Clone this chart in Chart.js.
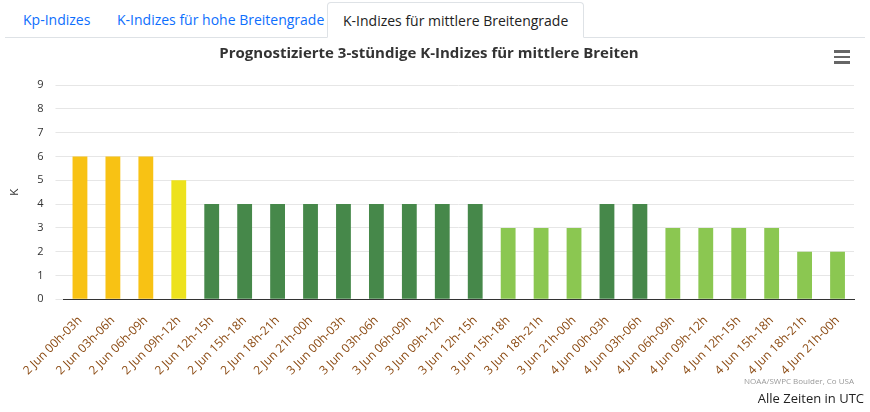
<!DOCTYPE html>
<html>
<head>
<meta charset="utf-8">
<script src="https://cdn.jsdelivr.net/npm/chart.js@4"></script>
<style>
body { margin: 0; width: 870px; height: 412px; font-family: "Open Sans", "DejaVu Sans", sans-serif; background: #fff; position: relative; overflow: hidden; }
.tabs { position: absolute; left: 5px; right: 5px; top: 0; height: 37px; border-bottom: 1px solid #dee2e6; }
.tab { position: absolute; top: 2px; height: 35px; line-height: 35px; font-size: 14px; color: #0d6efd; padding: 0 15px; box-sizing: border-box; white-space: nowrap; }
.tab.active { color: #222; border: 1px solid #dee2e6; border-bottom: 1px solid #fff; border-radius: 4px 4px 0 0; background: #fff; height: 36px; }
#wrap { position: absolute; left: 0; top: 38px; width: 870px; height: 346px; }
.menu { position: absolute; left: 834px; top: 50px; width: 16px; }
.menu div { height: 2.5px; background: #666; margin-bottom: 3px; }
.credit { position: absolute; right: 16px; top: 375px; font-size: 8px; color: #999; }
.utc { position: absolute; right: 6px; top: 389px; font-size: 13px; color: #222; }
</style>
</head>
<body>
<div class="tabs">
  <div class="tab" style="left:3px">Kp-Indizes</div>
  <div class="tab" style="left:97px">K-Indizes für hohe Breitengrade</div>
  <div class="tab active" style="left:322px">K-Indizes für mittlere Breitengrade</div>
</div>
<div id="wrap"><canvas id="c"></canvas></div>
<div class="menu"><div></div><div></div><div></div></div>
<div class="credit">NOAA/SWPC Boulder, Co USA</div>
<div class="utc">Alle Zeiten in UTC</div>
<script>
// Forecast 3-hour K-indices, mid latitudes
const labels = [
    '2 Jun 00h-03h', '2 Jun 03h-06h', '2 Jun 06h-09h', '2 Jun 09h-12h',
    '2 Jun 12h-15h', '2 Jun 15h-18h', '2 Jun 18h-21h', '2 Jun 21h-00h',
    '3 Jun 00h-03h', '3 Jun 03h-06h', '3 Jun 06h-09h', '3 Jun 09h-12h',
    '3 Jun 12h-15h', '3 Jun 15h-18h', '3 Jun 18h-21h', '3 Jun 21h-00h',
    '4 Jun 00h-03h', '4 Jun 03h-06h', '4 Jun 06h-09h', '4 Jun 09h-12h',
    '4 Jun 12h-15h', '4 Jun 15h-18h', '4 Jun 18h-21h', '4 Jun 21h-00h'
];
const kValues = [6, 6, 6, 5, 4, 4, 4, 4, 4, 4, 4, 4, 4, 3, 3, 3, 4, 4, 3, 3, 3, 3, 2, 2];
const yTicks = [0, 1, 2, 3, 4, 5, 6, 7, 8, 9];

function kColor(k) {
    if (k >= 6) return '#f8c214';
    if (k === 5) return '#ede21d';
    if (k === 4) return '#46884a';
    return '#8bc751';
}

new Chart(document.getElementById('c'), {
    type: 'bar',
    data: {
        labels: labels,
        datasets: [{
            data: kValues,
            backgroundColor: kValues.map(kColor),
            borderWidth: 0,
            barPercentage: 0.9,
            categoryPercentage: 0.5
        }]
    },
    options: {
        responsive: true,
        maintainAspectRatio: false,
        animation: false,
        layout: { padding: { left: 4, right: 16, top: 0, bottom: 0 } },
        plugins: {
            legend: { display: false },
            tooltip: { enabled: false },
            title: {
                display: true,
                text: 'Prognostizierte 3-stündige K-Indizes für mittlere Breiten',
                color: '#333',
                font: { size: 15, weight: 'bold', family: 'Open Sans' },
                padding: { top: 7, bottom: 22 }
            }
        },
        scales: {
            x: {
                grid: { display: false },
                border: { color: '#333', width: 1 },
                ticks: {
                    color: '#8b4a12',
                    font: { size: 12, family: 'Open Sans' },
                    maxRotation: 45, minRotation: 45,
                    autoSkip: false,
                    padding: 6
                }
            },
            y: {
                min: 0, max: 9,
                afterBuildTicks: function (axis) { axis.ticks = yTicks.map(function (v) { return { value: v }; }); },
                title: { display: true, text: 'K', color: '#333', font: { size: 11 } },
                border: { display: false },
                grid: { color: '#e6e6e6' },
                ticks: { color: '#333', font: { size: 11, family: 'Open Sans' }, padding: 12 }
            }
        }
    }
});
</script>
</body>
</html>
